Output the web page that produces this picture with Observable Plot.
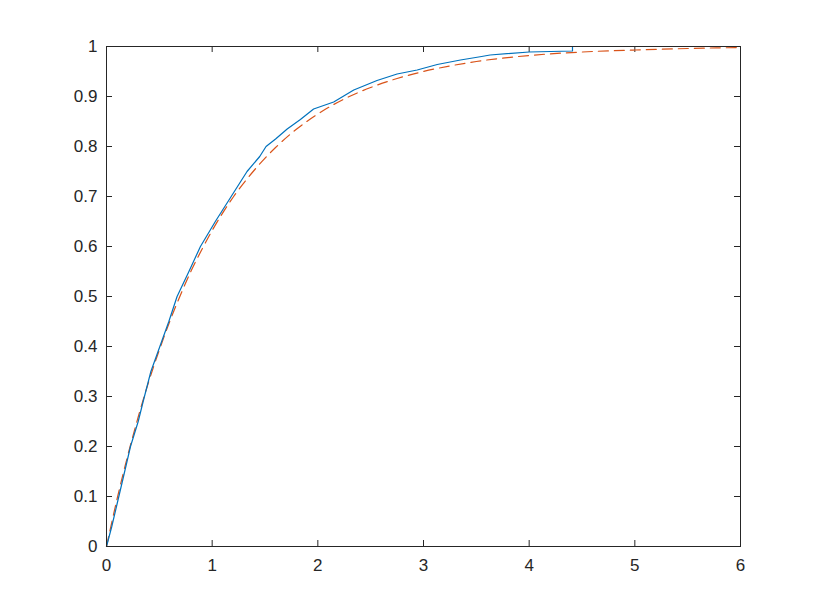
<!DOCTYPE html>
<html>
<head>
<meta charset="utf-8">
<script src="https://cdn.jsdelivr.net/npm/d3@7"></script>
<script src="https://cdn.jsdelivr.net/npm/@observablehq/plot@0.6"></script>
<style>
  html, body { margin: 0; padding: 0; background: #fff; }
  #chart svg { display: block; }
</style>
</head>
<body>
<div id="chart"></div>
<script>
// Empirical CDF (blue, solid)
const empX = [0, 0.05, 0.1, 0.15, 0.227, 0.3, 0.347, 0.42, 0.505, 0.59, 0.668, 0.78, 0.889, 1.03, 1.18, 1.33, 1.45, 1.51, 1.6, 1.71, 1.835, 1.96, 2.15, 2.34, 2.56, 2.75, 2.94, 3.13, 3.35, 3.55, 3.63, 4.0, 4.41, 4.41];
const empY = [0, 0.04, 0.085, 0.13, 0.2, 0.25, 0.29, 0.35, 0.4, 0.45, 0.5, 0.55, 0.6, 0.65, 0.7, 0.75, 0.78, 0.8, 0.815, 0.835, 0.854, 0.875, 0.889, 0.913, 0.932, 0.945, 0.953, 0.964, 0.973, 0.98, 0.983, 0.989, 0.991, 1.0];
// Fitted CDF (orange, dashed)
const fitX = [0, 0.1, 0.2, 0.3, 0.4, 0.5, 0.6, 0.7, 0.8, 0.9, 1, 1.2, 1.4, 1.6, 1.8, 2, 2.25, 2.5, 2.75, 3, 3.5, 4, 4.5, 5, 5.5, 6];
const fitY = [0, 0.095, 0.181, 0.259, 0.330, 0.393, 0.451, 0.503, 0.551, 0.593, 0.632, 0.699, 0.753, 0.798, 0.835, 0.865, 0.895, 0.918, 0.936, 0.950, 0.970, 0.982, 0.989, 0.993, 0.996, 0.998];
// Tick values
const xTicks = [0, 1, 2, 3, 4, 5, 6];
const yTicks = [0, 0.1, 0.2, 0.3, 0.4, 0.5, 0.6, 0.7, 0.8, 0.9, 1];

const emp = empX.map((x, i) => ({x, y: empY[i]}));
const fit = fitX.map((x, i) => ({x, y: fitY[i]}));

const axisColor = "#262626";
const W = 817, H = 613;
const mt = 46, mb = 67, ml = 106, mr = 77;
const innerH = H - mt - mb, innerW = W - ml - mr;
const tl = 6;

const chart = Plot.plot({
  width: W,
  height: H,
  marginTop: mt,
  marginBottom: mb,
  marginLeft: ml,
  marginRight: mr,
  style: {fontFamily: "Liberation Sans, Arial, sans-serif", fontSize: "15px", color: axisColor, background: "#fff"},
  x: {domain: [0, 6]},
  y: {domain: [0, 1]},
  marks: [
    Plot.axisX(xTicks, {tickSize: 0, tickPadding: 12, label: null, tickFormat: d => String(d), fill: axisColor, fontSize: 17}),
    Plot.axisY(yTicks, {tickSize: 0, tickPadding: 9, label: null, tickFormat: d => String(d), fill: axisColor, fontSize: 17}),
    Plot.tickX(xTicks, {x: d => d, stroke: axisColor, insetTop: innerH - tl}),
    Plot.tickX(xTicks, {x: d => d, stroke: axisColor, insetBottom: innerH - tl}),
    Plot.tickY(yTicks, {y: d => d, stroke: axisColor, insetRight: innerW - tl}),
    Plot.tickY(yTicks, {y: d => d, stroke: axisColor, insetLeft: innerW - tl}),
    Plot.line(fit, {x: "x", y: "y", stroke: "#D95319", strokeWidth: 1.2, strokeDasharray: "10,6", curve: "monotone-x"}),
    Plot.line(emp, {x: "x", y: "y", stroke: "#0072BD", strokeWidth: 1.2}),
    Plot.frame({stroke: axisColor})
  ]
});
document.getElementById("chart").appendChild(chart);
</script>
</body>
</html>
